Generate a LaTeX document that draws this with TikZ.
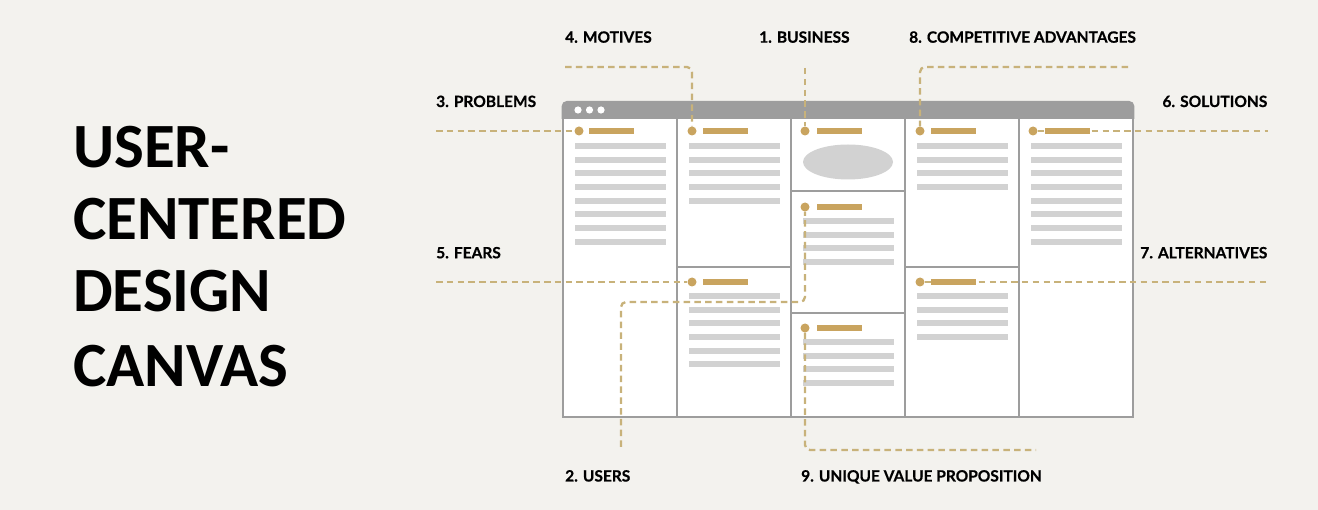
\documentclass[tikz,border=0pt]{standalone}
\usepackage{fontspec}
\setmainfont{Lato}
\newfontfamily\lblfont{Lato}[BoldFeatures={FakeBold=0.6}]
\newfontfamily\titlefont{Carlito}
\definecolor{bgc}{HTML}{F3F2EE}
\definecolor{framec}{HTML}{9D9D9D}
\definecolor{linec}{HTML}{D2D2D2}
\definecolor{goldc}{HTML}{C9A45F}
\definecolor{dashc}{HTML}{C8B27A}
\tikzset{
  bullet/.style={circle,fill=goldc,inner sep=0pt,minimum size=9pt},
  conn/.style={draw=dashc,line width=2.3pt,dash pattern=on 6.5pt off 4.3pt,rounded corners=5pt},
  lbl/.style={inner sep=0pt,font=\lblfont\fontsize{15.5}{17}\selectfont\bfseries,text=black},
  ttl/.style={inner sep=0pt,anchor=base west,font=\titlefont\fontsize{63}{70}\selectfont\bfseries,text=black},
  cellline/.style={fill=linec},
  goldbar/.style={fill=goldc},
  divider/.style={draw=framec,line width=2.6pt}
}
\newcommand\graylines[3]{% x0, first y, count-1
  \foreach \k in {0,...,#3}{
    \fill[cellline] ({#1+12},{#2+13.65*\k-3}) rectangle ({#1+102.5},{#2+13.65*\k+3});
  }%
}
\newcommand\goldhead[2]{\fill[goldbar] ({#1+26},{#2-3}) rectangle ({#1+71},{#2+3});}
\begin{document}
\begin{tikzpicture}[x=1pt,y=-1pt]
\fill[bgc] (0,0) rectangle (1318,510);
\useasboundingbox (0,0) rectangle (1318,510);

% title
\node[ttl] (t1) at (73,168) {USER-};
\node[ttl] (t2) at (73,240) {CENTERED};
\node[ttl] (t3) at (73,312) {DESIGN};
\node[ttl] (t4) at (73,387) {CANVAS};

% browser frame
\fill[white] (563,118) rectangle (1133,417);
\fill[framec] (561.7,119) [rounded corners=5pt] -- (561.7,101) -- (1134.3,101) [sharp corners] -- (1134.3,119) -- cycle;
\foreach \xx in {578,589.5,601} \fill[white] (\xx,110) circle (3.6pt);
\draw[divider] (563,118) rectangle (1133,417);
\foreach \xx in {677,791,905,1019} \draw[divider] (\xx,118) -- (\xx,417);
\draw[divider] (677,267) -- (791,267);
\draw[divider] (791,191) -- (905,191);
\draw[divider] (791,313) -- (905,313);
\draw[divider] (905,267) -- (1019,267);

% gray text lines
\graylines{563}{146}{7}
\graylines{677}{146}{4}
\graylines{677}{296}{5}
\fill[linec] (848,162) ellipse (45pt and 17.5pt);
\graylines{791}{221}{3}
\graylines{791}{342}{3}
\graylines{905}{146}{3}
\graylines{905}{296}{3}
\graylines{1019}{146}{7}

% bullets
\node[bullet] (bProb) at (579,131) {};
\node[bullet] (bMot) at (692,131) {};
\node[bullet] (bFear) at (692,282) {};
\node[bullet] (bBus) at (805,131) {};
\node[bullet] (bUser) at (805,207) {};
\node[bullet] (bUvp) at (805,328) {};
\node[bullet] (bComp) at (920,131) {};
\node[bullet] (bAlt) at (920,282) {};
\node[bullet] (bSol) at (1033,131) {};

% labels
\node[lbl,anchor=base west] (l4) at (565,42.7) {4. MOTIVES};
\node[lbl,anchor=base west] (l1) at (759,42.7) {1. BUSINESS};
\node[lbl,anchor=base west] (l8) at (909,42.7) {8. COMPETITIVE ADVANTAGES};
\node[lbl,anchor=base west] (l3) at (436,107) {3. PROBLEMS};
\node[lbl,anchor=base east] (l6) at (1267.5,107) {6. SOLUTIONS};
\node[lbl,anchor=base west] (l5) at (436,258.3) {5. FEARS};
\node[lbl,anchor=base east] (l7) at (1267.5,258.3) {7. ALTERNATIVES};
\node[lbl,anchor=base west] (l2) at (565,481.5) {2. USERS};
\node[lbl,anchor=base west] (l9) at (801,481.5) {9. UNIQUE VALUE PROPOSITION};

% connector ends
\coordinate (eBus) at (805,68);
\coordinate (eMot) at (565,67);
\coordinate (eComp) at (1128,67);
\coordinate (eProb) at (436,131);
\coordinate (eSol) at (1268,131);
\coordinate (eFear) at (436,282);
\coordinate (eAlt) at (1268,282);
\coordinate (eUser) at (621,447);
\coordinate (eUvp) at (1036,450);

% connectors
\draw[conn] (eBus) -- (bBus);
\draw[conn] (eMot) -- (692,67) -- (bMot);
\draw[conn] (eComp) -- (920,67) -- (bComp);
\draw[conn] (eProb) -- (bProb);
\draw[conn] (bSol) -- (eSol);
\draw[conn] (eFear) -- (bFear);
\draw[conn] (bAlt) -- (eAlt);
\draw[conn] (eUser) -- (621,302) -- (805,302) -- (bUser);
\draw[conn] (bUvp) -- (805,450) -- (eUvp);

% gold header bars
\goldhead{563}{131}
\goldhead{677}{131}
\goldhead{677}{282}
\goldhead{791}{131}
\goldhead{791}{207}
\goldhead{791}{328}
\goldhead{905}{131}
\goldhead{905}{282}
\goldhead{1019}{131}
\end{tikzpicture}
\end{document}
